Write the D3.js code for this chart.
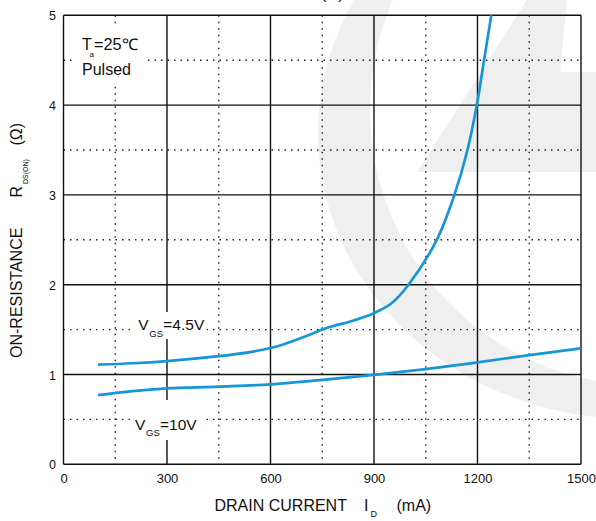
<!DOCTYPE html>
<html>
<head>
<meta charset="utf-8">
<script src="https://cdn.jsdelivr.net/npm/d3@7"></script>
<style>
  body { margin: 0; background: #fff; }
  svg { display: block; }
  text { font-family: "Liberation Sans", Arial, Helvetica, sans-serif; fill: #111; }
</style>
</head>
<body>
<svg id="chart" width="596" height="521"></svg>
<script>
// Axis ticks
const currentTicks = [0, 300, 600, 900, 1200, 1500];        // mA
const currentMinorTicks = [150, 450, 750, 1050, 1350];
const resistanceTicks = [0, 1, 2, 3, 4, 5];                   // ohm
const resistanceMinorTicks = [0.5, 1.5, 2.5, 3.5, 4.5];

// R_DS(ON) vs I_D, V_GS = 4.5 V
const idVgs45  = [100, 200, 300, 450, 541, 600, 637, 715, 750, 782, 831, 898, 950, 1000, 1082, 1133, 1171, 1198, 1219, 1240];
const rdsVgs45 = [1.11, 1.125, 1.15, 1.205, 1.25, 1.295, 1.335, 1.445, 1.50, 1.54, 1.59, 1.68, 1.79, 2.0, 2.5, 3.0, 3.5, 4.0, 4.5, 5.0];

// R_DS(ON) vs I_D, V_GS = 10 V
const idVgs10  = [100, 200, 300, 450, 600, 750, 900, 1050, 1200, 1350, 1500];
const rdsVgs10 = [0.77, 0.815, 0.845, 0.865, 0.89, 0.94, 0.995, 1.06, 1.135, 1.215, 1.29];

const svg = d3.select("#chart");
const W = 596, H = 521;
const plot = { left: 63.5, right: 581, top: 15.3, bottom: 464.3 };

const x = d3.scaleLinear().domain([0, 1500]).range([plot.left, plot.right]);
const y = d3.scaleLinear().domain([0, 5]).range([plot.bottom, plot.top]);

svg.append("rect").attr("width", W).attr("height", H).attr("fill", "#fff");

// faint background logo: a ring and a slanted bar
const logo = svg.append("g").attr("fill", "#efefef");
logo.append("path")
  .attr("fill-rule", "evenodd")
  .attr("d",
    "M 318 133 A 315 286 0 1 0 948 133 A 315 286 0 1 0 318 133 Z " +
    "M 370 110 A 275 275 0 1 0 920 110 A 275 275 0 1 0 370 110 Z");
logo.append("polygon")
  .attr("points", "527,0 567,0 560,72 596,72 596,172 417,172");

// grid
const grid = svg.append("g");
grid.selectAll("line.vmin").data(currentMinorTicks).join("line")
  .attr("x1", d => x(d)).attr("x2", d => x(d))
  .attr("y1", plot.top).attr("y2", plot.bottom)
  .attr("stroke", "#222").attr("stroke-width", 1.4).attr("stroke-dasharray", "1.5,5");
grid.selectAll("line.hmin").data(resistanceMinorTicks).join("line")
  .attr("x1", plot.left).attr("x2", plot.right)
  .attr("y1", d => y(d)).attr("y2", d => y(d))
  .attr("stroke", "#222").attr("stroke-width", 1.4).attr("stroke-dasharray", "1.5,5");
grid.selectAll("line.vmaj").data(currentTicks).join("line")
  .attr("x1", d => x(d)).attr("x2", d => x(d))
  .attr("y1", plot.top).attr("y2", plot.bottom)
  .attr("stroke", "#111").attr("stroke-width", 1.4);
grid.selectAll("line.hmaj").data(resistanceTicks).join("line")
  .attr("x1", plot.left).attr("x2", plot.right)
  .attr("y1", d => y(d)).attr("y2", d => y(d))
  .attr("stroke", "#111").attr("stroke-width", 1.4);

// white boxes behind the annotations
const masks = [[76, 28, 72, 58], [132, 312, 75, 27], [132, 400, 72, 40]];
svg.append("g").selectAll("rect").data(masks).join("rect")
  .attr("x", d => d[0]).attr("y", d => d[1]).attr("width", d => d[2]).attr("height", d => d[3])
  .attr("fill", "#fff");

// curves
const line = d3.line().x(d => x(d[0])).y(d => y(d[1])).curve(d3.curveCatmullRom.alpha(0.5));
svg.append("defs").append("clipPath").attr("id", "clip")
  .append("rect").attr("x", plot.left).attr("y", plot.top - 1)
  .attr("width", plot.right - plot.left).attr("height", plot.bottom - plot.top + 1);
const curves = svg.append("g").attr("clip-path", "url(#clip)");
curves.append("path").datum(d3.zip(idVgs45, rdsVgs45)).attr("d", line)
  .attr("fill", "none").attr("stroke", "#1596d6").attr("stroke-width", 2.7);
curves.append("path").datum(d3.zip(idVgs10, rdsVgs10)).attr("d", line)
  .attr("fill", "none").attr("stroke", "#1596d6").attr("stroke-width", 2.7);

// axes tick labels
const xAxis = d3.axisBottom(x).tickValues(currentTicks).tickFormat(d3.format("d"))
  .tickSize(0).tickPadding(0);
const gx = svg.append("g").attr("transform", `translate(0,${plot.bottom})`).call(xAxis);
gx.select(".domain").remove();
gx.selectAll("text").attr("y", 19).attr("dy", 0).attr("font-size", 13)
  .style("font-family", '"Liberation Sans", Arial, sans-serif').attr("fill", "#111");

const yAxis = d3.axisLeft(y).tickValues(resistanceTicks).tickFormat(d3.format("d"))
  .tickSize(0).tickPadding(0);
const gy = svg.append("g").attr("transform", `translate(${plot.left},0)`).call(yAxis);
gy.select(".domain").remove();
gy.selectAll("text").attr("x", -7.5).attr("dy", "0.36em").attr("font-size", 12.5)
  .style("font-family", '"Liberation Sans", Arial, sans-serif').attr("fill", "#111");

// annotations
const ann = svg.append("g");
ann.append("text").attr("x", 82).attr("y", 50).attr("font-size", 16).text("T");
ann.append("text").attr("x", 89.5).attr("y", 56.5).attr("font-size", 8).text("a");
ann.append("text").attr("x", 94).attr("y", 50).attr("font-size", 16)
  .attr("textLength", 44).attr("lengthAdjust", "spacingAndGlyphs").text("=25℃");
ann.append("text").attr("x", 82).attr("y", 75).attr("font-size", 16).text("Pulsed");

function vgsLabel(xPos, yBase, rest) {
  ann.append("text").attr("x", xPos).attr("y", yBase).attr("font-size", 15.5).text("V");
  ann.append("text").attr("x", xPos + 11).attr("y", yBase + 6.5).attr("font-size", 9.5).text("GS");
  ann.append("text").attr("x", xPos + 25).attr("y", yBase).attr("font-size", 15.5).text(rest);
}
vgsLabel(138.3, 330, "=4.5V");
vgsLabel(135, 429.5, "=10V");

// x axis title
const xt = svg.append("g");
xt.append("text").attr("x", 214.5).attr("y", 511).attr("font-size", 16).text("DRAIN CURRENT");
xt.append("text").attr("x", 364).attr("y", 511).attr("font-size", 16).text("I");
xt.append("text").attr("x", 370.5).attr("y", 517).attr("font-size", 9).text("D");
xt.append("text").attr("x", 396.5).attr("y", 511).attr("font-size", 16).text("(mA)");

// y axis title (rotated)
const yt = svg.append("g");
function vText(yPos, xBase, size, str) {
  yt.append("text").attr("transform", `translate(${xBase},${yPos}) rotate(-90)`)
    .attr("font-size", size).text(str);
}
vText(358, 22, 16, "ON-RESISTANCE");
vText(197.5, 22, 16, "R");
vText(184, 28, 7, "DS(ON)");
vText(145.5, 22, 16, "(Ω)");

// title line above the plot (mostly outside the view)
svg.append("text").attr("x", 321).attr("y", -1).attr("font-size", 16).text("(Ω)");
</script>
</body>
</html>
